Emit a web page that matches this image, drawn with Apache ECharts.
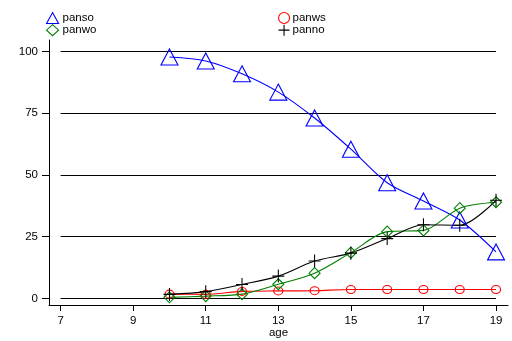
<!DOCTYPE html>
<html><head><meta charset="utf-8">
<script src="https://cdn.jsdelivr.net/npm/echarts@6/dist/echarts.min.js"></script>
<style>html,body{margin:0;background:#fff}#c{width:512px;height:341px}</style>
</head><body><div id="c"></div>
<script>
// Share of each group by age
const ages = [10, 11, 12, 13, 14, 15, 16, 17, 18, 19];
const panso = [97.7, 96.1, 90.9, 83.5, 73.0, 60.4, 46.8, 39.4, 31.7, 18.8];
const panws = [1.7, 1.6, 2.8, 3.0, 3.1, 3.6, 3.6, 3.6, 3.6, 3.6];
const panwo = [0.4, 0.9, 1.7, 5.7, 10.2, 18.5, 27.0, 27.5, 36.5, 38.9];
const panno = [1.6, 2.7, 5.6, 9.0, 15.1, 18.3, 24.2, 29.8, 29.6, 39.7];
const xTicks = [7, 9, 11, 13, 15, 17, 19];
const yTicks = [0, 25, 50, 75, 100];

const FONT = "'Liberation Sans', Arial, sans-serif";
const PLUS = 'path://M0,5L10,5M5,0L5,10';

const pairs = ys => ages.map((a, i) => [a, ys[i]]);

function lineSeries(name, ys, color, symbol, size, extra) {
  return Object.assign({
    name, type: 'line', data: pairs(ys), smooth: 0.3,
    symbol, symbolSize: size,
    itemStyle: { color: 'rgba(0,0,0,0)', borderColor: color, borderWidth: 1.1 },
    lineStyle: { color, width: 1.1 },
    emphasis: { disabled: true }
  }, extra || {});
}

// Horizontal reference lines spanning the labelled age range
const gridLines = yTicks.map(v => [{ coord: [xTicks[0], v] }, { coord: [xTicks[xTicks.length - 1], v] }]);

const chart = echarts.init(document.getElementById('c'), null, { renderer: 'canvas' });
chart.setOption({
  animation: false,
  backgroundColor: '#fff',
  textStyle: { fontFamily: FONT },
  grid: { left: 49, right: 4, top: 40, bottom: 36, outerBoundsMode: 'none', containLabel: false },
  legend: [
    {
      left: 46, top: 12, orient: 'vertical', padding: 0, itemGap: 0,
      itemWidth: 12, itemHeight: 11,
      textStyle: { fontSize: 11.5, color: '#000', fontFamily: FONT, padding: [0, 0, 0, -1] },
      data: [
        { name: 'panso', icon: 'triangle', itemStyle: { color: 'rgba(0,0,0,0)', borderColor: '#0000ff', borderWidth: 1.1 } },
        { name: 'panwo', icon: 'diamond', itemStyle: { color: 'rgba(0,0,0,0)', borderColor: '#008000', borderWidth: 1.1 } }
      ]
    },
    {
      left: 278, top: 12, orient: 'vertical', padding: 0, itemGap: 0,
      itemWidth: 11, itemHeight: 11,
      textStyle: { fontSize: 11.5, color: '#000', fontFamily: FONT, padding: [0, 0, 0, -2] },
      data: [
        { name: 'panws', icon: 'circle', itemStyle: { color: 'rgba(0,0,0,0)', borderColor: '#ff0000', borderWidth: 1.1 } },
        { name: 'panno', icon: PLUS, itemStyle: { color: 'rgba(0,0,0,0)', borderColor: '#000', borderWidth: 1.1 } }
      ]
    }
  ],
  xAxis: {
    type: 'value', min: 6.68, max: 19.33,
    axisLine: { show: true, onZero: false, lineStyle: { color: '#000', width: 1 } },
    axisTick: { show: true, length: 6, customValues: xTicks, lineStyle: { color: '#000' } },
    axisLabel: { customValues: xTicks, margin: 10, fontSize: 11.5, color: '#000', fontFamily: FONT },
    splitLine: { show: false },
    name: 'age', nameLocation: 'middle', nameGap: 22, nameMoveOverlap: false,
    nameTextStyle: { fontSize: 11.5, color: '#000', fontFamily: FONT }
  },
  yAxis: {
    type: 'value', min: -2.7, max: 104.6,
    axisLine: { show: true, onZero: false, lineStyle: { color: '#000', width: 1 } },
    axisTick: { show: true, length: 7, customValues: yTicks, lineStyle: { color: '#000' } },
    axisLabel: { customValues: yTicks, margin: 11, fontSize: 11.5, color: '#000', fontFamily: FONT },
    splitLine: { show: false }
  },
  series: [
    lineSeries('panso', panso, '#0000ff', 'triangle', [17, 16], {
      markLine: {
        silent: true, symbol: 'none', label: { show: false },
        lineStyle: { color: '#000', width: 1, type: 'solid' },
        data: gridLines, z: 1
      }
    }),
    lineSeries('panws', panws, '#ff0000', 'circle', [9, 8]),
    lineSeries('panwo', panwo, '#008000', 'diamond', [11, 11]),
    lineSeries('panno', panno, '#000000', PLUS, [12, 13])
  ]
});
</script>
</body></html>
